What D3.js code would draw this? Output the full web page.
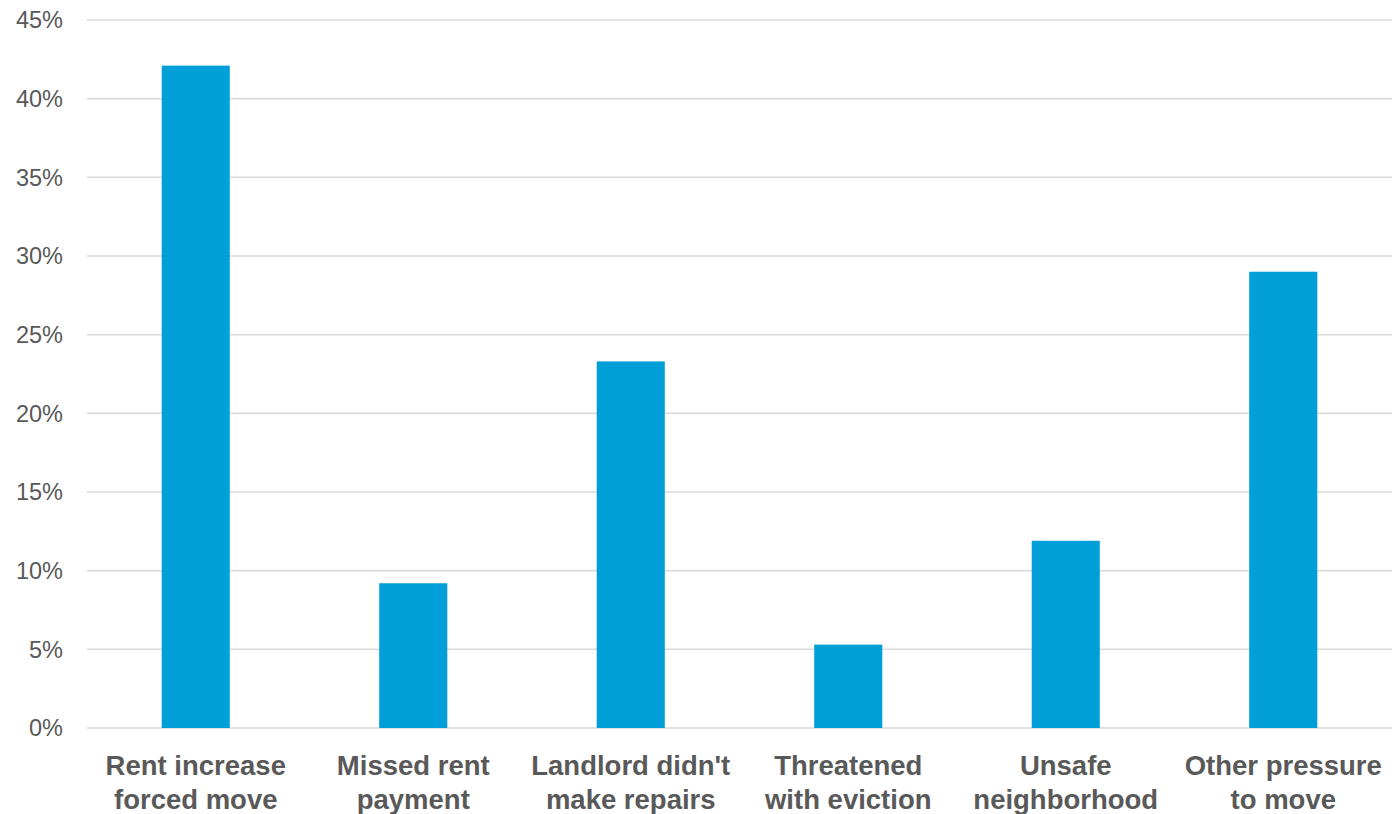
<!DOCTYPE html>
<html><head><meta charset="utf-8">
<script src="https://cdn.jsdelivr.net/npm/d3@7"></script>
<style>
html,body{margin:0;padding:0;background:#fff;}
svg{display:block;font-family:"Liberation Sans",Arial,sans-serif;}
</style></head>
<body><svg id="c" width="1392" height="814"></svg>
<script>
const categories = [["Rent increase","forced move"],["Missed rent","payment"],["Landlord didn't","make repairs"],["Threatened","with eviction"],["Unsafe","neighborhood"],["Other pressure","to move"]];
const values = [42.1, 9.2, 23.3, 5.3, 11.9, 29.0];
const yTicks = [0,5,10,15,20,25,30,35,40,45];

const svg = d3.select("#c");
const m = {left:87, right:0, top:20, bottom:86};
const W = 1392, H = 814;
const x = d3.scaleBand().domain(d3.range(categories.length)).range([m.left, W-m.right]).paddingInner(0.687).paddingOuter(0.3435);
const y = d3.scaleLinear().domain([0,45]).range([H-m.bottom, m.top]);

svg.append("g").selectAll("line").data(yTicks).join("line")
  .attr("x1", m.left).attr("x2", W).attr("y1", d=>y(d)).attr("y2", d=>y(d))
  .attr("stroke","#d9d9d9").attr("stroke-width",1.5);

svg.append("g").selectAll("text").data(yTicks).join("text")
  .attr("x", 63).attr("y", d=>y(d)).attr("dy","0.36em").attr("text-anchor","end")
  .attr("font-size",23.5).attr("fill","#595959").text(d=>d+"%");

svg.append("g").selectAll("rect").data(values).join("rect")
  .attr("x",(d,i)=>x(i)).attr("width",x.bandwidth())
  .attr("y",d=>y(d)).attr("height",d=>y(0)-y(d)).attr("fill","#009fd7");

const lab = svg.append("g").selectAll("text").data(categories).join("text")
  .attr("text-anchor","middle").attr("font-size",27.5).attr("font-weight","bold").attr("fill","#595959");
lab.each(function(d,i){
  const t = d3.select(this);
  d.forEach((s,j)=>t.append("tspan").attr("x", x(i)+x.bandwidth()/2).attr("y", 775+j*34).text(s));
});
</script></body></html>
